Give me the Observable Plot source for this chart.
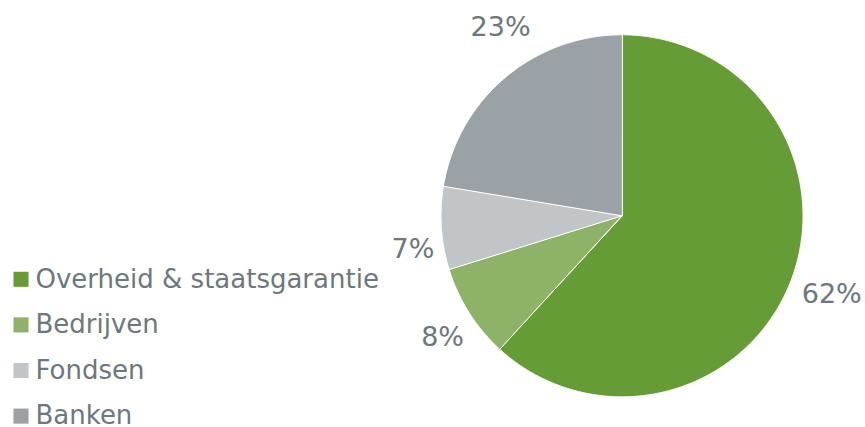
<!DOCTYPE html>
<html>
<head>
<meta charset="utf-8">
<script src="https://cdn.jsdelivr.net/npm/d3@7"></script>
<script src="https://cdn.jsdelivr.net/npm/@observablehq/plot@0.6"></script>
<style>
  html, body { margin: 0; padding: 0; background: #fff; }
  #chart svg { display: block; }
</style>
</head>
<body>
<div id="chart"></div>
<script>
// Data (slice sizes; labels as printed)
const categories = ["Overheid & staatsgarantie", "Bedrijven", "Fondsen", "Banken"];
const shares = [61.8, 8.4, 7.4, 22.4];
const labels = ["62%", "8%", "7%", "23%"];
const colors = ["#669c35", "#8db268", "#c1c5c8", "#9aa2a8"];

// Layout
const W = 865, H = 427;
const cx = 621.5, cy = 215.3, R = 181;
const labelGap = 11.5, labelFont = 27;
// label placement tweaks: [angle shift in degrees, radial shift in px]
const labelNudge = {"62%": [-0.6, 0], "8%": [-1.8, 1], "7%": [-5.2, -3.5], "23%": [7.5, 6.8]};
const legendX = 20.5, legendY0 = 278.8, legendStep = 45.6, legendFont = 26;
const textColor = "#6d777e";
const font = "DejaVu Sans, Verdana, sans-serif";

const total = d3.sum(shares);
let acc = 0;
const slices = categories.map((c, i) => {
  const a0 = acc / total * 2 * Math.PI;
  acc += shares[i];
  const a1 = acc / total * 2 * Math.PI;
  return {cat: c, a0, a1, label: labels[i]};
});

const polyPts = [];
for (const s of slices) {
  polyPts.push({cat: s.cat, x: cx, y: cy});
  const n = Math.max(2, Math.ceil((s.a1 - s.a0) / (Math.PI / 360)));
  for (let k = 0; k <= n; k++) {
    const a = s.a0 + (s.a1 - s.a0) * k / n;
    polyPts.push({cat: s.cat, x: cx + R * Math.sin(a), y: cy - R * Math.cos(a)});
  }
}

const labelPts = slices.map(s => {
  const [da, dr] = labelNudge[s.label] || [0, 0];
  const m = (s.a0 + s.a1) / 2 + da * Math.PI / 180;
  const sx = Math.sin(m), sy = -Math.cos(m);
  const digits = s.label.replace("%", "").length;
  const w = labelFont * (0.636 * digits + 0.95), h = labelFont * 0.75;
  const ext = Math.abs(sx) * w / 2 + Math.abs(sy) * h / 2;
  const d = R + labelGap + ext + dr;
  return {label: s.label, x: cx + d * sx, y: cy + d * sy};
});

const legend = categories.map((c, i) => ({cat: c, x: legendX, y: legendY0 + i * legendStep}));

const chart = Plot.plot({
  width: W, height: H,
  margin: 0,
  style: {fontFamily: font, background: "#fff"},
  x: {type: "linear", domain: [0, W], range: [0, W], axis: null},
  y: {type: "linear", domain: [0, H], range: [0, H], axis: null},
  color: {type: "ordinal", domain: categories, range: colors},
  marks: [
    Plot.line(polyPts, {x: "x", y: "y", z: "cat", fill: "cat", stroke: "#fff", strokeWidth: 1, curve: "linear-closed"}),
    Plot.text(labelPts, {x: "x", y: "y", text: "label", fill: textColor, fontSize: labelFont, textAnchor: "middle"}),
    Plot.dot(legend, {x: "x", y: "y", fill: "cat", symbol: "square", r: 8.5, stroke: null}),
    Plot.text(legend, {x: "x", y: "y", text: "cat", dx: 14.5, textAnchor: "start", fill: textColor, fontSize: legendFont})
  ]
});
document.getElementById("chart").append(chart);
</script>
</body>
</html>
